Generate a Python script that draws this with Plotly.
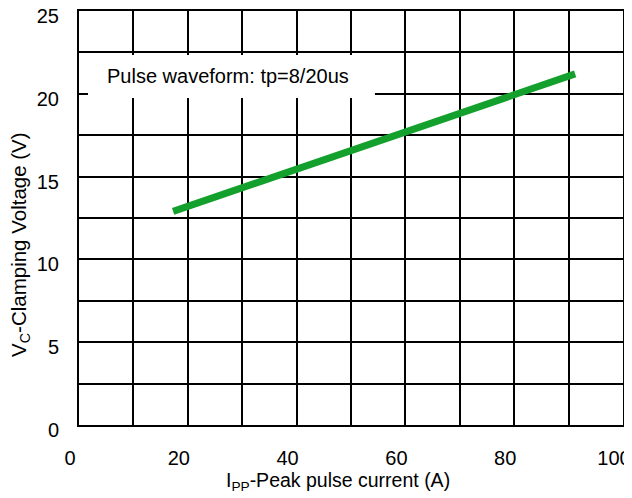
import plotly.graph_objects as go

# Data
ipp_current = [17.3, 91.2]        # A
vc_voltage = [12.9, 21.2]         # V
x_tick_vals = [0, 20, 40, 60, 80, 100]
y_tick_vals = [0, 5, 10, 15, 20, 25]
note_text = "Pulse waveform: tp=8/20us"
x_title = "I<sub>PP</sub>-Peak pulse current (A)"
y_title = "V<sub>C</sub>-Clamping Voltage (V)"

FONT = "Liberation Sans, Arial, sans-serif"

fig = go.Figure()
fig.add_trace(go.Scatter(
    x=ipp_current, y=vc_voltage, mode="lines",
    line=dict(color="#14A02C", width=7),
    showlegend=False, hoverinfo="skip",
))

# page body has an 8px margin, so the figure is 8px smaller than the window
fig.update_layout(
    width=624, height=490,
    margin=dict(l=71, r=9, t=3, b=73, autoexpand=False),
    paper_bgcolor="white", plot_bgcolor="white",
    font=dict(family=FONT, color="black"),
    xaxis=dict(
        range=[0, 100], tickvals=x_tick_vals, ticks="",
        automargin=False, ticklabeloverflow="allow",
        showgrid=True, gridcolor="black", gridwidth=2,
        minor=dict(dtick=10, tick0=0, showgrid=True, gridcolor="black", gridwidth=2),
        showline=True, linecolor="black", linewidth=2, mirror=True,
        zeroline=False,
        tickfont=dict(size=20, family=FONT),
        ticklabelshift=-9, ticklabelstandoff=14,
    ),
    yaxis=dict(
        range=[0, 25], tickvals=y_tick_vals, ticks="",
        automargin=False, ticklabeloverflow="allow",
        showgrid=True, gridcolor="black", gridwidth=2,
        minor=dict(dtick=2.5, tick0=0, showgrid=True, gridcolor="black", gridwidth=2),
        showline=True, linecolor="black", linewidth=2, mirror=True,
        zeroline=False,
        tickfont=dict(size=20, family=FONT),
        ticklabelshift=5, ticklabelstandoff=14,
    ),
    shapes=[dict(
        type="rect", xref="paper", yref="paper",
        x0=0.0165, x1=0.544, y0=0.7899, y1=0.8937,
        fillcolor="white", line=dict(width=0), layer="above",
    )],
    annotations=[
        dict(text=note_text, xref="paper", yref="paper",
             x=0.0478, y=0.843, xanchor="left", yanchor="middle",
             showarrow=False, font=dict(size=20, family=FONT, color="black")),
        dict(text=x_title, xref="paper", yref="paper",
             x=0.4752, y=-0.1353, xanchor="center", yanchor="middle",
             showarrow=False, font=dict(size=19.5, family=FONT, color="black")),
        dict(text=y_title, xref="paper", yref="paper", textangle=-90,
             x=-0.1085, y=0.4372, xanchor="center", yanchor="middle",
             showarrow=False, font=dict(size=20.5, family=FONT, color="black")),
    ],
)

fig.write_html("out.html")
